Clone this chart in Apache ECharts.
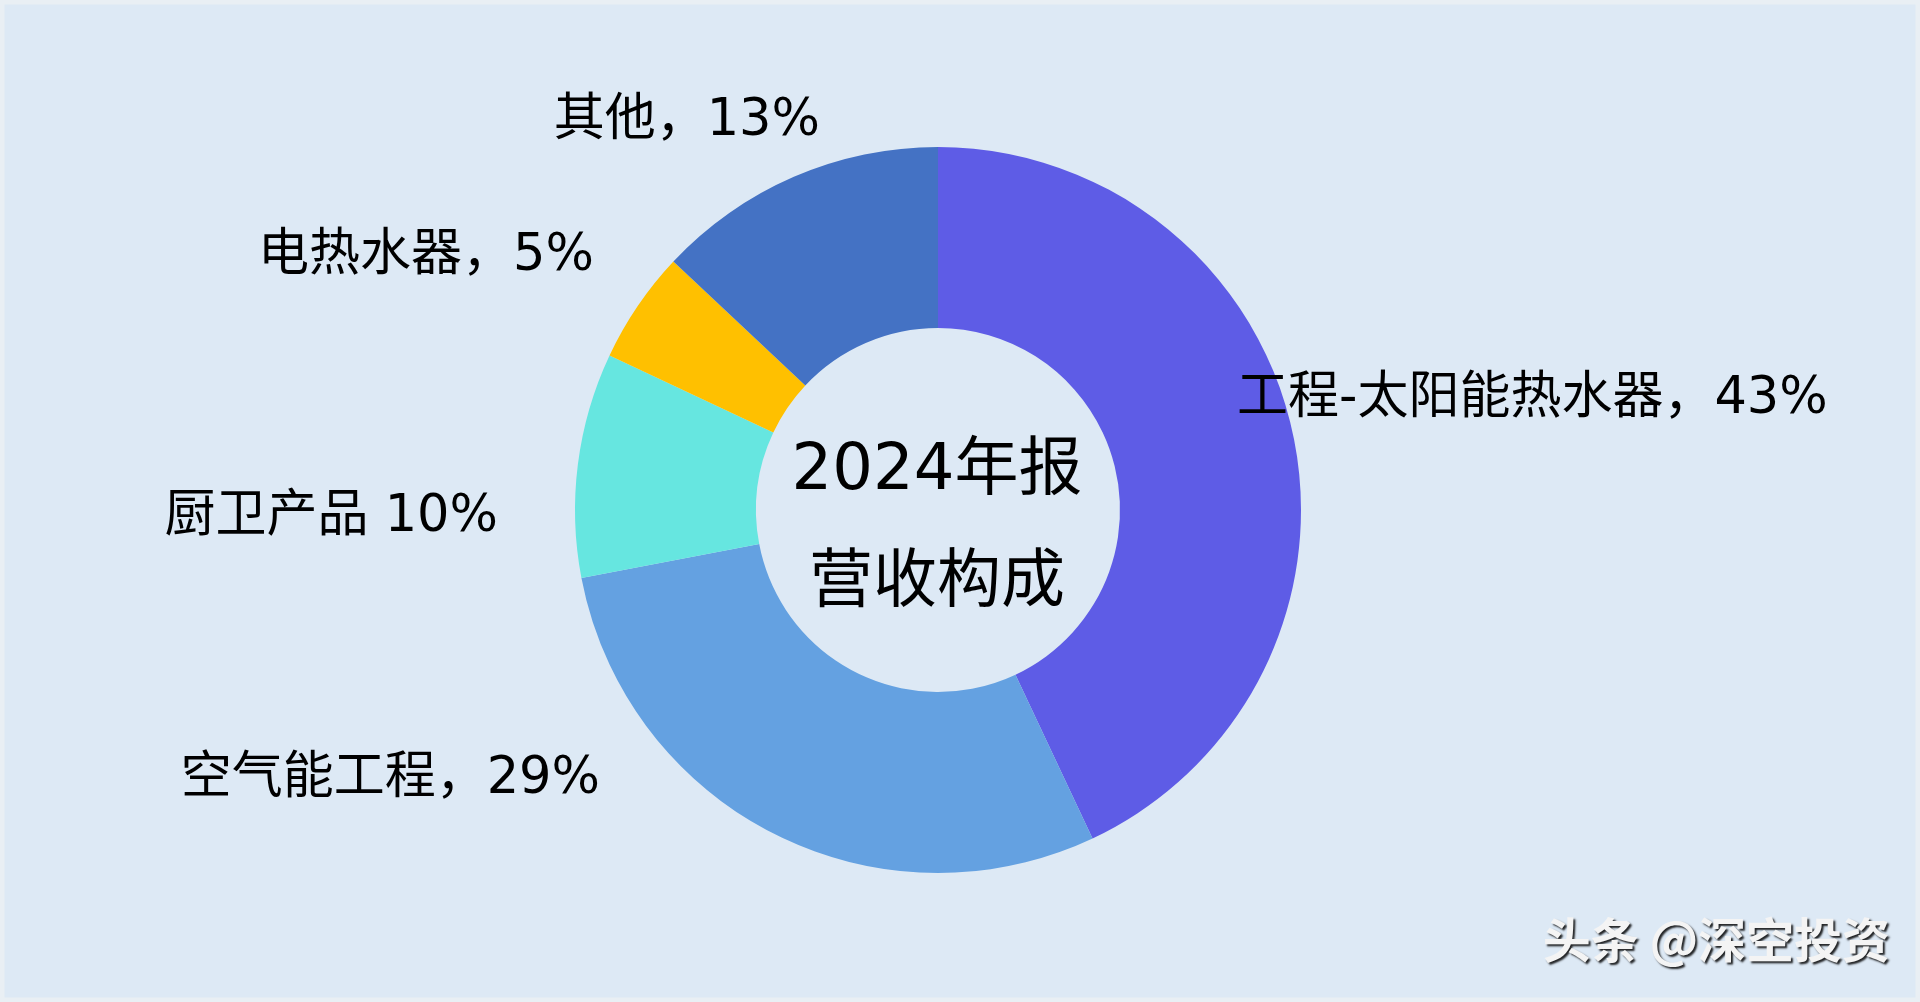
<!DOCTYPE html>
<html>
<head>
<meta charset="utf-8">
<title>2024年报营收构成</title>
<script src="https://cdn.jsdelivr.net/npm/echarts@6/dist/echarts.min.js"></script>
<style>
  html, body { margin: 0; padding: 0; background: #eef2f5; }
  #main { width: 1920px; height: 1002px; }
</style>
</head>
<body>
<div id="main"></div>
<script>
// 营收构成数据（%）
const names = ['工程-太阳能热水器', '空气能工程', '厨卫产品', '电热水器', '其他'];
const shares = [43, 29, 10, 5, 13];
const seps = ['，', '，', ' ', '，', '，'];
const colors = ['#5e5ce6', '#64a1e1', '#66e6e0', '#ffc000', '#4472c4'];
const centerLines = ['2024年报', '营收构成'];
const watermark = '头条 @深空投资';

const myChart = echarts.init(document.getElementById('main'));

// 标签位置（仿照原图手动摆放）
const labelSpots = [
    { x: 1237, y: 400, align: 'left' },
    { x: 600, y: 780, align: 'right' },
    { x: 498, y: 518, align: 'right' },
    { x: 594, y: 257, align: 'right' },
    { x: 820, y: 122, align: 'right' }
];

const txtFont = "'DejaVu Sans', 'Noto Sans CJK SC', sans-serif";

myChart.setOption({
    backgroundColor: '#dde9f5',
    color: colors,
    graphic: [
        {
            type: 'rect',
            shape: { x: 2, y: 2, width: 1916, height: 998 },
            style: { fill: 'none', stroke: '#e9eff4', lineWidth: 5 },
            silent: true
        },
        {
            type: 'text',
            x: 937,
            y: 528,
            style: {
                text: centerLines.join('\n'),
                font: "normal 64px 'DejaVu Sans', 'Noto Sans CJK SC', sans-serif",
                fill: '#000',
                align: 'center',
                verticalAlign: 'middle',
                lineHeight: 112
            },
            silent: true
        },
        {
            type: 'text',
            right: 30,
            top: 916,
            style: {
                text: watermark,
                font: "bold 48px 'Noto Sans CJK SC', sans-serif",
                fill: '#f4f4f4',
                textShadowColor: 'rgba(0,0,0,0.85)',
                textShadowOffsetX: 2,
                textShadowOffsetY: 2,
                textShadowBlur: 2
            },
            silent: true
        }
    ],
    series: [
        {
            name: '营收构成',
            type: 'pie',
            center: [938, 510],
            radius: [182, 363],
            startAngle: 90,
            clockwise: true,
            avoidLabelOverlap: false,
            itemStyle: { borderWidth: 0 },
            emphasis: { disabled: true },
            label: {
                show: true,
                position: 'outside',
                color: '#000',
                fontSize: 51,
                fontFamily: txtFont,
                formatter: (p) => p.name + seps[p.dataIndex] + p.value + '%'
            },
            labelLine: { show: false },
            labelLayout: (params) => {
                const s = labelSpots[params.dataIndex];
                return { x: s.x, y: s.y, align: s.align, verticalAlign: 'middle', hideOverlap: false };
            },
            data: names.map((n, i) => ({ name: n, value: shares[i] }))
        }
    ]
});
</script>
</body>
</html>
